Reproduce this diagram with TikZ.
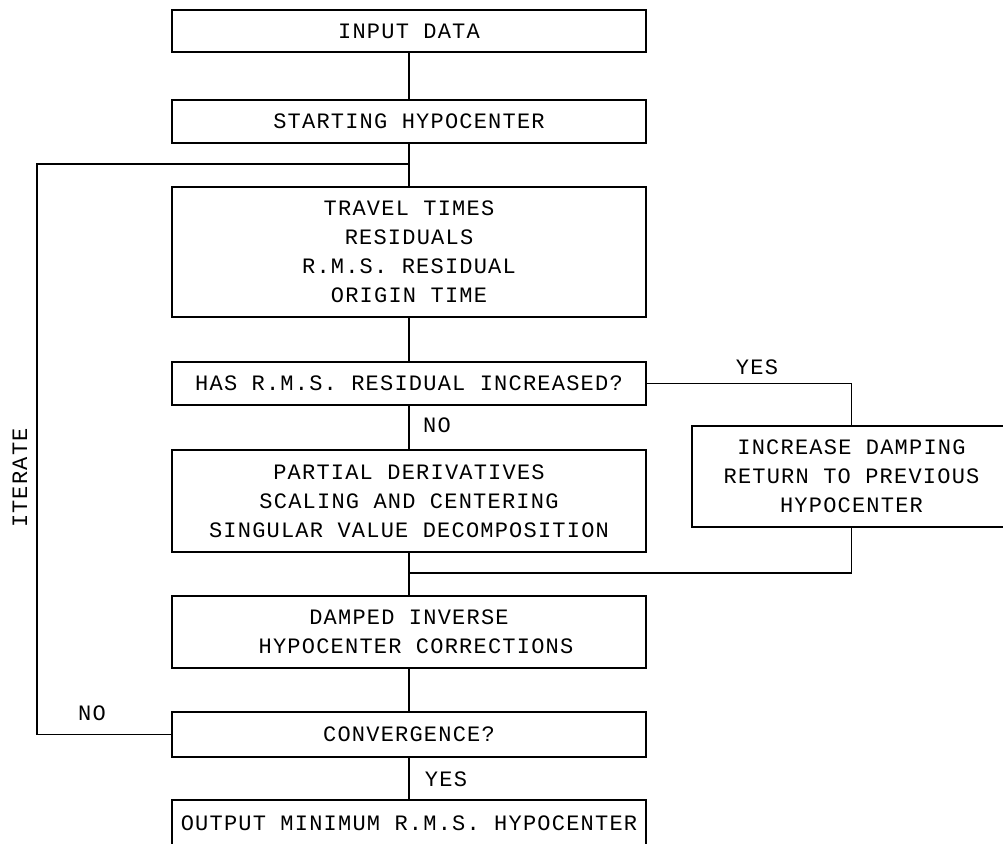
\documentclass[tikz,border=0pt]{standalone}
\usepackage{fontspec}
\newfontfamily\plotfont[LetterSpace=5.5]{Liberation Mono}
\begin{document}
\begin{tikzpicture}[x=1pt,y=-1pt,
  every node/.style={font=\plotfont\fontsize{22}{29}\selectfont},
  box/.style={draw,line width=1.8pt,minimum width=474pt,inner sep=0pt,align=center},
  incbox/.style={draw,line width=1.8pt,minimum width=319pt,minimum height=101pt,inner sep=0pt,align=center},
  link/.style={line width=1.8pt},
  lbl/.style={inner sep=0pt}]
\useasboundingbox[fill=white] (0,0) rectangle (1003,843);
\node[box,minimum height=42pt] (b1) at (409,31) {INPUT DATA};
\node[box,minimum height=43pt] (b2) at (409,121.5) {STARTING HYPOCENTER};
\node[box,minimum height=130pt] (b3) at (409,252) {TRAVEL TIMES\\RESIDUALS\\R.M.S. RESIDUAL\\ORIGIN TIME};
\node[box,minimum height=43pt] (b4) at (409,383.5) {HAS R.M.S. RESIDUAL INCREASED?};
\node[box,minimum height=102pt] (b5) at (409,501) {PARTIAL DERIVATIVES\\SCALING AND CENTERING\\SINGULAR VALUE DECOMPOSITION};
\node[box,minimum height=72pt] (b6) at (409,632) {DAMPED INVERSE\\\hspace*{14pt}HYPOCENTER CORRECTIONS};
\node[box,minimum height=45pt] (b7) at (409,734.5) {CONVERGENCE?};
\node[box,minimum height=46pt] (b8) at (409,823) {OUTPUT MINIMUM R.M.S. HYPOCENTER};
\node[incbox] (inc) at (851.5,476.5) {INCREASE DAMPING\\RETURN TO PREVIOUS\\HYPOCENTER};
\coordinate (j1) at (409,164);
\coordinate (lc) at (37,164);
\coordinate (j2) at (409,573);
\node[lbl,rotate=90] (it) at (20,478) {ITERATE};
\node[lbl] (yes1) at (757,367) {YES};
\node[lbl] (no1) at (437,425) {NO};
\node[lbl] (no2) at (92,713) {NO};
\node[lbl] (yes2) at (446,779) {YES};
\draw[link] (b1.south) -- (b2.north);
\draw[link] (b2.south) -- (b3.north);
\draw[link] (b7.west) -| (lc) -- (j1);
\draw[link] (b3.south) -- (b4.north);
\draw[link] (b4.south) -- (b5.north);
\draw[link] (b4.east) -| (inc.north);
\draw[link] (b5.south) -- (b6.north);
\draw[link] (inc.south) |- (j2);
\draw[link] (b6.south) -- (b7.north);
\draw[link] (b7.south) -- (b8.north);
\end{tikzpicture}
\end{document}
